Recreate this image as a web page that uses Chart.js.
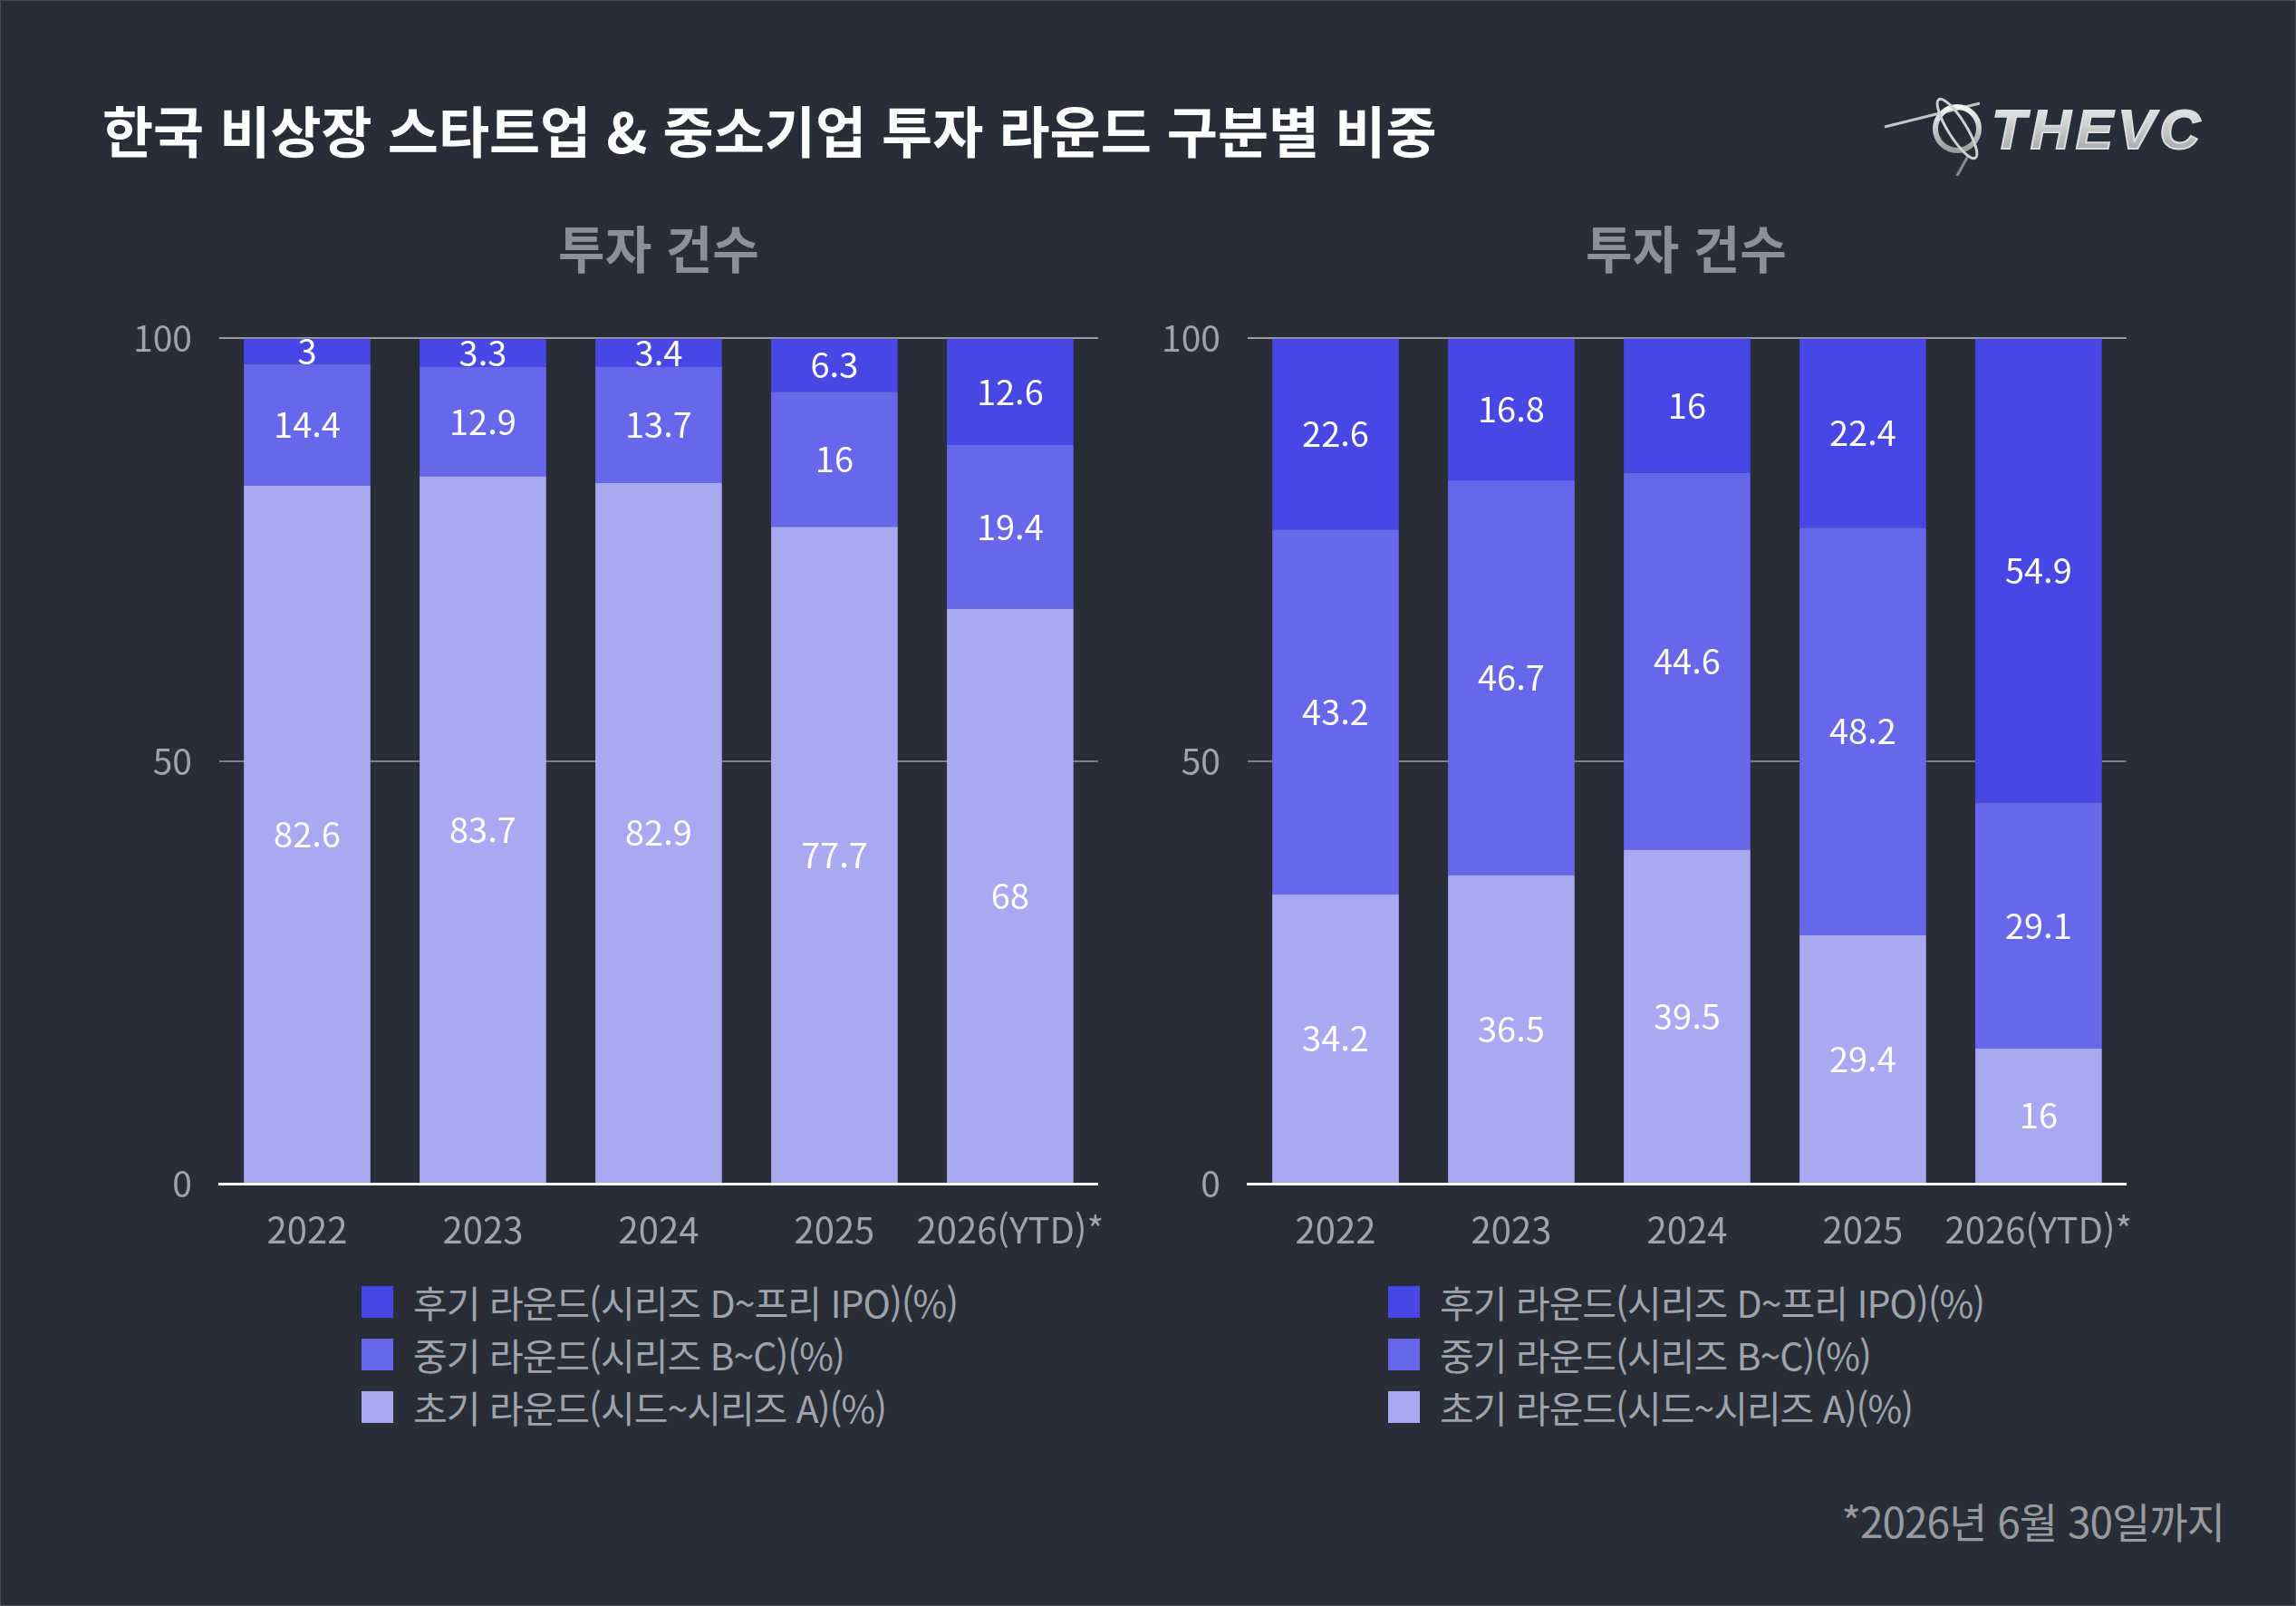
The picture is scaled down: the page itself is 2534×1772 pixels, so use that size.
<!DOCTYPE html>
<html lang="ko">
<head>
<meta charset="utf-8">
<script src="https://cdn.jsdelivr.net/npm/chart.js@4.4.1/dist/chart.umd.min.js"></script>
<style>
  html, body { margin: 0; padding: 0; }
  body {
    width: 2534px; height: 1772px; background: #292d38; position: relative; overflow: hidden;
    font-family: 'Noto Sans CJK KR', 'Noto Sans', sans-serif;
  }
  .frame { position: absolute; left: 0; top: 0; width: 2532px; height: 1770px; border: 1px solid #4a4e58; }
  h1 { position: absolute; left: 113px; top: 112px; margin: 0; font-size: 61px; font-weight: 700; color: #ffffff; letter-spacing: 0; line-height: 1; }
  .sub { position: absolute; top: 244px; width: 600px; text-align: center; font-size: 56px; font-weight: 700; color: #8c909b; line-height: 1; letter-spacing: 0; }
  .box { position: absolute; top: 320px; width: 1140px; height: 1080px; }
  .legend { position: absolute; top: 1407px; }
  .legend div { height: 58px; display: flex; align-items: center; font-size: 41px; color: #9fa3ae; letter-spacing: -1px; }
  .legend span.sw { display: inline-block; width: 35px; height: 35px; margin-right: 22px; }
  .note { position: absolute; right: 79px; top: 1654px; font-size: 46px; color: #999a9e; letter-spacing: -1px; line-height: 1; }
  .logo { position: absolute; left: 2060px; top: 84px; }
</style>
</head>
<body>
<div class="frame"></div>
<h1>한국 비상장 스타트업 &amp; 중소기업 투자 라운드 구분별 비중</h1>

<svg class="logo" width="420" height="110" viewBox="0 0 420 110">
  <defs>
    <linearGradient id="lg" x1="0" y1="0" x2="0" y2="1">
      <stop offset="0" stop-color="#f4f4f4"/>
      <stop offset="1" stop-color="#9c9c9c"/>
    </linearGradient>
  </defs>
  <line x1="20" y1="56" x2="125" y2="30" stroke="#c4c4c4" stroke-width="3"/>
  <line x1="112" y1="88" x2="90" y2="128" stroke="#8a8a8a" stroke-width="3"/>
  <circle cx="100" cy="58" r="24" fill="none" stroke="url(#lg)" stroke-width="6"/>
  <ellipse cx="100" cy="58" rx="38" ry="10" transform="rotate(58 100 58)" fill="none" stroke="#d0d0d0" stroke-width="3"/>
  <text x="138" y="80" font-family="'Liberation Sans', sans-serif" font-size="62" font-weight="700" font-style="italic" fill="url(#lg)" letter-spacing="5" stroke="#dcdcdc" stroke-width="2">THEVC</text>
</svg>

<div class="sub" style="left:427px">투자 건수</div>
<div class="sub" style="left:1561px">투자 건수</div>

<div class="box" style="left:100px"><canvas id="c1"></canvas></div>
<div class="box" style="left:1235px"><canvas id="c2"></canvas></div>

<div class="legend" id="lg1" style="left:399px"></div>
<div class="legend" id="lg2" style="left:1532px"></div>

<div class="note">*2026년 6월 30일까지</div>

<script>
const years = ['2022', '2023', '2024', '2025', '2026(YTD)*'];
const seriesNames = ['초기 라운드(시드~시리즈 A)(%)', '중기 라운드(시리즈 B~C)(%)', '후기 라운드(시리즈 D~프리 IPO)(%)'];
const seriesColors = ['#a9a8f3', '#6867ec', '#4946e6'];

// left panel
const earlyA = [82.6, 83.7, 82.9, 77.7, 68];
const midA = [14.4, 12.9, 13.7, 16, 19.4];
const lateA = [3, 3.3, 3.4, 6.3, 12.6];

// right panel
const earlyB = [34.2, 36.5, 39.5, 29.4, 16];
const midB = [43.2, 46.7, 44.6, 48.2, 29.1];
const lateB = [22.6, 16.8, 16, 22.4, 54.9];

const yTicks = [0, 50, 100];

Chart.defaults.font.family = "'Noto Sans CJK KR', 'Noto Sans', sans-serif";

const barLabels = {
    id: 'barLabels',
    afterDatasetsDraw(chart) {
        const ctx = chart.ctx;
        ctx.save();
        ctx.fillStyle = '#ffffff';
        ctx.font = "38px 'Noto Sans CJK KR', sans-serif";
        ctx.textAlign = 'center';
        ctx.textBaseline = 'middle';
        chart.data.datasets.forEach((ds, i) => {
            const meta = chart.getDatasetMeta(i);
            meta.data.forEach((bar, j) => {
                const y = (bar.y + bar.base) / 2;
                ctx.fillText(String(ds.data[j]), bar.x, y);
            });
        });
        ctx.restore();
    }
};

function makeChart(id, early, mid, late) {
    const ctx = document.getElementById(id).getContext('2d');
    return new Chart(ctx, {
        type: 'bar',
        data: {
            labels: years,
            datasets: [early, mid, late].map((d, i) => ({
                label: seriesNames[i],
                data: d,
                backgroundColor: seriesColors[i],
                borderWidth: 0,
                categoryPercentage: 1,
                barPercentage: 0.72
            }))
        },
        options: {
            responsive: true,
            maintainAspectRatio: false,
            animation: false,
            layout: { padding: { top: 13, right: 28, left: 0, bottom: 0 } },
            plugins: {
                legend: { display: false },
                tooltip: { enabled: false }
            },
            scales: {
                x: {
                    stacked: true,
                    grid: { display: false },
                    border: { color: '#ffffff', width: 3 },
                    ticks: { color: '#9fa3ae', font: { size: 40 }, padding: 19, maxRotation: 0, autoSkip: false },
                    afterFit(scale) { scale.height = 94; }
                },
                y: {
                    stacked: true,
                    min: 0,
                    max: 100,
                    afterBuildTicks(scale) { scale.ticks = yTicks.map(v => ({ value: v })); },
                    grid: {
                        drawTicks: false,
                        color: (c) => c.tick && c.tick.value === 0 ? 'rgba(0,0,0,0)' : (c.tick && c.tick.value === 100 ? '#9a9ca2' : '#7c7f88'),
                        lineWidth: 2
                    },
                    border: { display: false },
                    ticks: { color: '#9fa3ae', font: { size: 39 }, padding: 30 },
                    afterFit(scale) { scale.width = 142; }
                }
            }
        },
        plugins: [barLabels]
    });
}

makeChart('c1', earlyA, midA, lateA);
makeChart('c2', earlyB, midB, lateB);

function makeLegend(id) {
    const el = document.getElementById(id);
    [2, 1, 0].forEach(i => {
        const row = document.createElement('div');
        const sw = document.createElement('span');
        sw.className = 'sw';
        sw.style.background = seriesColors[i];
        row.appendChild(sw);
        row.appendChild(document.createTextNode(seriesNames[i]));
        el.appendChild(row);
    });
}
makeLegend('lg1');
makeLegend('lg2');
</script>
</body>
</html>
